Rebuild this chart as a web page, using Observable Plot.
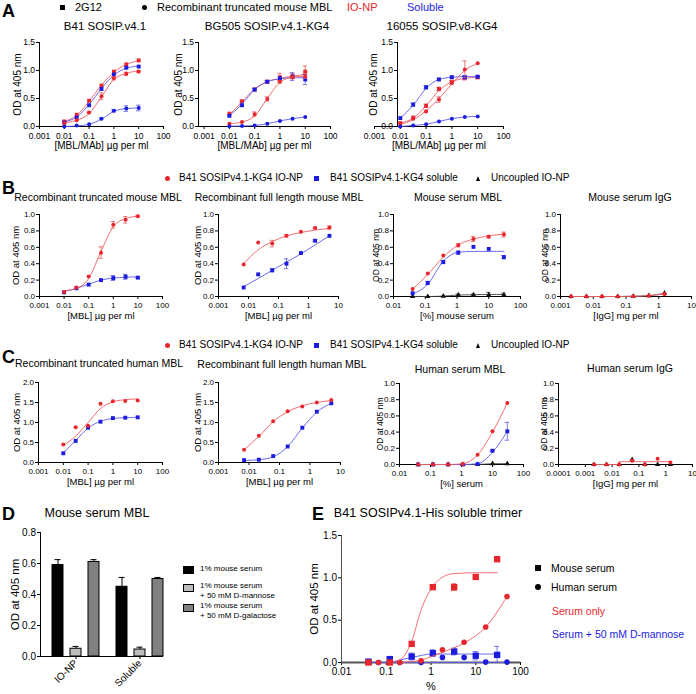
<!DOCTYPE html>
<html><head><meta charset="utf-8">
<script src="https://cdn.jsdelivr.net/npm/d3@7"></script>
<script src="https://cdn.jsdelivr.net/npm/@observablehq/plot@0.6"></script>
<style>
body{margin:0;background:#fff;}
#fig{position:relative;width:696px;height:694px;font-family:"Liberation Sans",Arial,Helvetica,sans-serif;color:#000;overflow:hidden;background:#fff}
#fig svg{position:absolute;overflow:visible}
</style></head><body><div id="fig"></div><script>
// ================= DATA =================
// Panel A  (x: [MBL/MAb] ug/ml)
const doseA = [0.01, 0.0316, 0.1, 0.316, 1, 3.16, 10];
const A1_g12_np  = [0.09, 0.21, 0.46, 0.73, 0.98, 1.11, 1.18];
const A1_g12_sol = [0.07, 0.16, 0.38, 0.67, 0.93, 1.05, 1.07];
const A1_mbl_np  = [0.06, 0.11, 0.25, 0.54, 0.86, 0.94, 0.98];
const A1_mbl_np_err  = [0, 0, 0.01, 0.06, 0.03, 0.03, 0.02];
const A1_mbl_sol = [0.0, 0.02, 0.04, 0.14, 0.28, 0.32, 0.33];
const A1_mbl_sol_err = [0, 0, 0, 0.01, 0.02, 0.05, 0.05];
const A1_g12_np_fit  = [0.09, 0.20, 0.45, 0.74, 0.97, 1.11, 1.17];
const A1_g12_sol_fit = [0.08, 0.17, 0.39, 0.68, 0.92, 1.04, 1.08];
const A1_mbl_np_fit  = [0.07, 0.11, 0.23, 0.53, 0.84, 0.95, 0.99];
const A1_mbl_sol_fit = [0.0, 0.01, 0.04, 0.13, 0.27, 0.32, 0.33];

const A2_g12_np  = [0.23, 0.45, 0.66, 0.80, 0.88, 0.90, 0.98];
const A2_g12_np_err = [0, 0.02, 0.02, 0.02, 0.07, 0.05, 0.10];
const A2_g12_sol = [0.19, 0.38, 0.66, 0.80, 0.86, 0.89, 0.84];
const A2_g12_sol_err = [0, 0.02, 0.02, 0.02, 0.03, 0.07, 0.09];
const A2_mbl_np  = [0.05, 0.08, 0.22, 0.49, 0.80, 0.88, 0.90];
const A2_mbl_np_err = [0, 0, 0.04, 0.04, 0.02, 0.02, 0.04];
const A2_mbl_sol = [0.005, 0.01, 0.02, 0.05, 0.10, 0.14, 0.17];
const A2_g12_np_fit  = [0.21, 0.44, 0.67, 0.80, 0.86, 0.90, 0.93];
const A2_g12_sol_fit = [0.19, 0.40, 0.66, 0.80, 0.85, 0.87, 0.87];
const A2_mbl_np_fit  = [0.05, 0.08, 0.19, 0.50, 0.79, 0.88, 0.90];

const A3_g12_np  = [0.06, 0.16, 0.37, 0.67, 0.80, 0.87, 0.88];
const A3_g12_np_err = [0, 0, 0.03, 0.03, 0.02, 0.04, 0.03];
const A3_g12_sol = [0.15, 0.39, 0.70, 0.84, 0.88, 0.88, 0.89];
const A3_g12_sol_err = [0, 0.03, 0.03, 0.02, 0.02, 0.03, 0.02];
const A3_mbl_np  = [0.05, 0.14, 0.27, 0.48, 0.78, 1.02, 1.13];
const A3_mbl_np_err = [0, 0, 0.02, 0.05, 0.03, 0.15, 0];
const A3_mbl_sol = [0.0, 0.02, 0.04, 0.09, 0.14, 0.17, 0.18];
const A3_g12_np_fit  = [0.06, 0.15, 0.37, 0.64, 0.80, 0.86, 0.88];
const A3_g12_sol_fit = [0.15, 0.38, 0.68, 0.84, 0.88, 0.89, 0.89];
const A3_mbl_np_fit  = [0.04, 0.12, 0.28, 0.50, 0.76, 1.00, 1.13];

// Panel B (mouse)
const doseTrunc = [0.01, 0.0316, 0.1, 0.316, 1, 3.16, 10];
const doseFull  = [0.0069, 0.021, 0.062, 0.185, 0.56, 1.67, 5];
const doseSerum = [0.04, 0.12, 0.37, 1.1, 3.3, 10, 30];
const doseIgG   = [0.0021, 0.0062, 0.0185, 0.056, 0.167, 0.5, 1.5];

const B1_np  = [0.055, 0.11, 0.245, 0.535, 0.875, 0.935, 0.98];
const B1_np_err = [0, 0, 0, 0.07, 0.04, 0.04, 0.01];
const B1_np_fit = [0.07, 0.10, 0.22, 0.55, 0.85, 0.95, 0.98];
const B1_sol = [0.05, 0.10, 0.145, 0.20, 0.225, 0.24, 0.23];
const B1_sol_err = [0, 0, 0, 0, 0.03, 0.03, 0.01];
const B1_sol_fit = [0.06, 0.10, 0.15, 0.20, 0.225, 0.235, 0.24];

const B2_np  = [0.39, 0.66, 0.645, 0.74, 0.79, 0.835, 0.84];
const B2_np_err = [0, 0, 0.04, 0.015, 0, 0.01, 0.02];
const B2_np_fit = [0.40, 0.57, 0.67, 0.74, 0.78, 0.81, 0.83];
const B2_sol = [0.11, 0.27, 0.32, 0.40, 0.53, 0.68, 0.74];
const B2_sol_err = [0, 0, 0.02, 0.06, 0, 0.01, 0];
const B2_sol_fit = [0.12, 0.22, 0.32, 0.42, 0.52, 0.63, 0.74];

const B3_np  = [0.09, 0.28, 0.50, 0.625, 0.70, 0.73, 0.755];
const B3_np_err = [0, 0, 0, 0.02, 0.03, 0.015, 0.03];
const B3_np_fit = [0.09, 0.27, 0.48, 0.63, 0.70, 0.74, 0.76];
const B3_sol = [0.04, 0.165, 0.42, 0.535, 0.605, 0.58, 0.48];
const B3_sol_err = [0, 0.02, 0.02, 0.02, 0, 0, 0.02];
const B3_sol_fit = [0.03, 0.15, 0.43, 0.54, 0.55, 0.55, 0.55];
const B3_unc = [0, 0, 0.005, 0.02, 0.02, 0.02, 0.02];
const B3_unc_err = [0, 0, 0, 0.01, 0.01, 0.03, 0.02];
const B3_unc_fit = [0, 0, 0.005, 0.018, 0.022, 0.025, 0.025];

const B4_np  = [0, 0, 0, 0, 0.002, 0.01, 0.03];
const B4_np_err = [0, 0, 0, 0, 0, 0, 0.01];
const B4_unc = [0, 0, 0, 0, 0.003, 0.01, 0.04];

// Panel C (human)
const C1_np  = [0.45, 0.88, 0.92, 1.47, 1.53, 1.54, 1.55];
const C1_np_fit = [0.42, 0.66, 1.00, 1.35, 1.52, 1.57, 1.59];
const C1_sol = [0.23, 0.54, 0.87, 1.02, 1.11, 1.12, 1.13];
const C1_sol_fit = [0.24, 0.55, 0.86, 1.03, 1.10, 1.12, 1.13];

const C2_np  = [0.32, 0.67, 1.03, 1.28, 1.40, 1.50, 1.56];
const C2_np_fit = [0.32, 0.65, 1.02, 1.27, 1.42, 1.50, 1.55];
const C2_sol = [0.06, 0.07, 0.16, 0.40, 0.87, 1.27, 1.48];
const C2_sol_fit = [0.05, 0.07, 0.14, 0.40, 0.86, 1.26, 1.48];

const C3_np  = [0, 0, 0, 0.005, 0.12, 0.41, 0.76];
const C3_np_fit = [0, 0, 0, 0.01, 0.12, 0.40, 0.76];
const C3_sol = [0, 0, 0, 0, 0.005, 0.17, 0.41];
const C3_sol_err = [0, 0, 0, 0, 0, 0.01, 0.11];
const C3_sol_fit = [0, 0, 0, 0, 0.01, 0.15, 0.41];
const C3_unc = [0, 0, 0, 0, 0, 0.01, 0.01];

const C4_np  = [0, 0, 0, 0.045, 0, 0.07, 0.025];
const C4_np_fit = [0, 0, 0, 0.035, 0.035, 0.035, 0.035];
const C4_unc = [0, 0, 0, 0.06, 0, 0, 0];

// Panel D (bars)
const dGroups = ["IO-NP", "Soluble"];
const dConds = ["1% mouse serum", "1% mouse serum\n+ 50 mM D-mannose", "1% mouse serum\n+ 50 mM D-galactose"];
const dIONP = [0.59, 0.05, 0.61];
const dIONP_err = [0.035, 0.015, 0.015];
const dSol = [0.45, 0.045, 0.50];
const dSol_err = [0.06, 0.015, 0.01];

// Panel E
const doseEm = [0.04, 0.12, 0.37, 1.1, 3.3, 10, 30];
const doseEh = [0.067, 0.2, 0.6, 1.8, 5.5, 16.7, 50];
const E_mouse_only = [0, 0, 0.22, 0.89, 0.89, 1.01, 1.22];
const E_mouse_only_err = [0, 0, 0, 0.02, 0.04, 0, 0];
const E_mouse_man = [0.01, 0.04, 0.07, 0.11, 0.13, 0.08, 0.09];
const E_mouse_man_err = [0.02, 0.02, 0.04, 0.04, 0.04, 0.05, 0.10];
const E_human_only = [0, 0, 0.02, 0.15, 0.24, 0.42, 0.78];
const E_human_man = [0, 0, 0, 0.06, 0.06, 0.005, 0.005];
const fitEm_x = [0.12, 0.2, 0.37, 0.6, 1.1, 2, 3.3, 10, 30];
const fitEm_y = [0, 0.03, 0.25, 0.62, 0.90, 1.02, 1.05, 1.06, 1.06];
const fitEh_x = [0.2, 0.6, 1.8, 5.5, 16.7, 50];
const fitEh_y = [0, 0.03, 0.12, 0.23, 0.42, 0.78];
const fitEmMan_x = [0.12, 0.37, 1.1, 3.3, 10, 30];
const fitEmMan_y = [0, 0.06, 0.10, 0.10, 0.10, 0.10];
const fitEhMan_x = [0.04, 50];
const fitEhMan_y = [0, 0];

// ================= STYLE =================
const FONT = "'Liberation Sans', Arial, Helvetica, sans-serif";
const COL  = {np: "#e8262d", sol: "#1c1cde", unc: "#111111"};
const LCOL = {np: "#ef5d62", sol: "#5b5bea", unc: "#444444"};
const fig = document.getElementById("fig");
const logFmt = d => String(d);

function S(kind, shape, x, y, err, fit, fitX) { return {kind, shape, x, y, err, fit, fitX}; }

function txt(str, x, y, o = {}) {
  const d = document.createElement("div");
  d.textContent = str;
  const tx = o.anchor === "start" ? "0" : o.anchor === "end" ? "-100%" : "-50%";
  d.style.cssText = `position:absolute;left:${x}px;top:${y}px;font-size:${o.size||11}px;color:${o.color||"#000"};` +
    `font-weight:${o.weight||"normal"};white-space:pre;line-height:${o.lh||1};transform:translate(${tx},-50%);`;
  fig.appendChild(d);
}
function marker(shape, x, y, s, color) {
  const d = document.createElement("div");
  let css = `position:absolute;left:${x - s/2}px;top:${y - s/2}px;width:${s}px;height:${s}px;background:${color};`;
  if (shape === "circle") css += "border-radius:50%;";
  if (shape === "triangle") css = `position:absolute;left:${x - s/2}px;top:${y - s/2}px;width:0;height:0;border-left:${s/2}px solid transparent;border-right:${s/2}px solid transparent;border-bottom:${s}px solid ${color};`;
  d.style.cssText = css;
  fig.appendChild(d);
}

function curvePanel(o) {
  const mL = 48, mR = 14, mT = 6, mB = 34;
  const W = o.x1 - o.x0, H = o.yb - o.yt;
  const dec = Math.log10(o.xdom[1] / o.xdom[0]);
  const capK = Math.pow(10, (o.cap || 2.2) * dec / W);
  const fs = o.fs || 8.5;
  const yAt = o.yAxisAt || o.xdom[0];
  const yDx = Math.log10(yAt / o.xdom[0]) / dec * W;
  const marks = [
    Plot.axisX({ticks: o.xticks, tickFormat: logFmt, tickSize: 3, tickPadding: o.xpad || 2.5, fontSize: fs, label: null}),
    Plot.axisY({ticks: o.yticks, tickFormat: d => d.toFixed(1), tickSize: 3, tickPadding: 1.5, fontSize: fs, label: null, dx: yDx}),
    Plot.ruleX([yAt], {stroke: o.axisCol || "#000", strokeWidth: 1}),
    Plot.ruleY([o.ydom[0]], {stroke: o.xAxisCol || "#000", strokeWidth: o.xAxisW || 1}),
  ];
  for (const s of o.series) {
    const pts = s.x.map((x, i) => ({x, y: s.y[i], e: s.err ? s.err[i] : 0}));
    const fx = s.fitX || s.x, fy = s.fit || s.y;
    if (!s.noLine) {
      const fitPts = fx.map((x, i) => ({x, y: fy[i]}));
      marks.push(Plot.line(fitPts, {x: "x", y: "y", stroke: LCOL[s.kind], strokeWidth: s.lw || 0.9, curve: s.curve || "monotone-x"}));
    }
    const eb = pts.filter(d => d.e > 0);
    const ec = {stroke: LCOL[s.kind], strokeWidth: 0.8};
    marks.push(Plot.ruleX(eb, {x: "x", y1: d => Math.max(0, d.y - d.e), y2: d => d.y + d.e, ...ec}));
    marks.push(Plot.ruleY(eb, {y: d => d.y + d.e, x1: d => d.x / capK, x2: d => d.x * capK, ...ec}));
    marks.push(Plot.ruleY(eb.filter(d => d.y - d.e > 0), {y: d => d.y - d.e, x1: d => d.x / capK, x2: d => d.x * capK, ...ec}));
    const r = s.r || o.r || (s.shape === "square" ? 2.2 : 2.0);
    marks.push(Plot.dot(pts, {x: "x", y: "y", symbol: s.shape, r, fill: COL[s.kind], stroke: "none"}));
  }
  if (o.xlabel) marks.push(Plot.text([o.xlabel], {text: d => d, frameAnchor: "bottom", textAnchor: "middle", dy: o.xlDy || 22, fontSize: o.xlfs || 10}));
  marks.push(Plot.text([o.ylabel || "OD at 405 nm"], {text: d => d, frameAnchor: "left", textAnchor: "middle", lineAnchor: "middle",
    dx: yDx + (o.ylDx || -22), rotate: -90, fontSize: o.ylfs || 10}));
  const svg = Plot.plot({
    width: W + mL + mR, height: H + mT + mB,
    marginLeft: mL, marginRight: mR, marginTop: mT, marginBottom: mB,
    x: {type: "log", domain: o.xdom},
    y: {domain: o.ydom},
    style: {fontFamily: FONT, color: "#000", background: "transparent", overflow: "visible"},
    marks
  });
  svg.style.left = (o.x0 - mL) + "px";
  svg.style.top = (o.yt - mT) + "px";
  fig.appendChild(svg);
}

// ================= PANEL A =================
txt("A", 2, 11, {size: 18, weight: "bold", anchor: "start"});
marker("square", 62, 7, 5, "#000"); txt("2G12", 75, 7, {anchor: "start", size: 11});
marker("circle", 144, 7, 5, "#000"); txt("Recombinant truncated mouse MBL", 157, 7, {anchor: "start", size: 11});
txt("IO-NP", 347, 7, {anchor: "start", size: 11, color: COL.np});
txt("Soluble", 407, 7, {anchor: "start", size: 11, color: COL.sol});
txt("B41 SOSIP.v4.1", 105, 27, {size: 11.5});
txt("BG505 SOSIP.v4.1-KG4", 267, 27, {size: 11.5});
txt("16055 SOSIP.v8-KG4", 442, 27, {size: 11.5});

const aCommon = {yt: 42, yb: 126, xticks: [0.001, 0.01, 0.1, 1, 10, 100],
  ydom: [0, 1.5], yticks: [0, 0.5, 1.0, 1.5], xlabel: "[MBL/MAb] µg per ml", xlDy: 22, xpad: 3};
curvePanel({...aCommon, x0: 39, x1: 163, xdom: [0.001, 100], ylDx: -22, series: [
  S("np", "square", doseA, A1_g12_np, null, A1_g12_np_fit),
  S("sol", "square", doseA, A1_g12_sol, null, A1_g12_sol_fit),
  S("np", "circle", doseA, A1_mbl_np, A1_mbl_np_err, A1_mbl_np_fit),
  S("sol", "circle", doseA, A1_mbl_sol, A1_mbl_sol_err, A1_mbl_sol_fit)]});
curvePanel({...aCommon, x0: 198, x1: 330, xdom: [0.0006, 100], ylDx: -20, series: [
  S("np", "square", doseA, A2_g12_np, A2_g12_np_err, A2_g12_np_fit),
  S("sol", "square", doseA, A2_g12_sol, A2_g12_sol_err, A2_g12_sol_fit),
  S("np", "circle", doseA, A2_mbl_np, A2_mbl_np_err, A2_mbl_np_fit),
  S("sol", "circle", doseA, A2_mbl_sol)]});
curvePanel({...aCommon, x0: 374, x1: 503, xdom: [0.001, 100], yAxisAt: 0.0078, ylDx: -24, series: [
  S("np", "square", doseA, A3_g12_np, A3_g12_np_err, A3_g12_np_fit),
  S("sol", "square", doseA, A3_g12_sol, A3_g12_sol_err, A3_g12_sol_fit),
  S("np", "circle", doseA, A3_mbl_np, A3_mbl_np_err, A3_mbl_np_fit),
  S("sol", "circle", doseA, A3_mbl_sol)]});

// ================= PANEL B =================
function legendBC(y) {
  marker("circle", 167, y, 5, COL.np); txt("B41 SOSIPv4.1-KG4 IO-NP", 179, y, {anchor: "start", size: 10});
  marker("square", 316, y, 5, COL.sol); txt("B41 SOSIPv4.1-KG4 soluble", 330, y, {anchor: "start", size: 10});
  marker("triangle", 478, y, 5, "#000"); txt("Uncoupled IO-NP", 491, y, {anchor: "start", size: 10});
}
txt("B", 2, 188, {size: 18, weight: "bold", anchor: "start"});
legendBC(178);
txt("Recombinant truncated mouse MBL", 98, 197, {size: 10.5});
txt("Recombinant full length mouse MBL", 279, 197, {size: 10.5});
txt("Mouse serum MBL", 458, 197, {size: 10.5});
txt("Mouse serum IgG", 630, 197, {size: 10.5});
const bCommon = {yt: 214, yb: 296, ydom: [0, 1], yticks: [0, 0.2, 0.4, 0.6, 0.8, 1.0], fs: 8, xlDy: 22, xlfs: 9.5, ylfs: 9.5};
curvePanel({...bCommon, x0: 39, x1: 162, xdom: [0.001, 100], xticks: [0.001, 0.01, 0.1, 1, 10, 100],
  xlabel: "[MBL] µg per ml", ylDx: -24, series: [
  S("sol", "square", doseTrunc, B1_sol, B1_sol_err, B1_sol_fit),
  S("np", "circle", doseTrunc, B1_np, B1_np_err, B1_np_fit)]});
curvePanel({...bCommon, x0: 218, x1: 338, xdom: [0.001, 10], xticks: [0.001, 0.01, 0.1, 1, 10],
  xlabel: "[MBL] µg per ml", ylDx: -21, series: [
  S("sol", "square", doseFull, B2_sol, B2_sol_err, B2_sol_fit),
  S("np", "circle", doseFull, B2_np, B2_np_err, B2_np_fit)]});
curvePanel({...bCommon, x0: 393, x1: 520, xdom: [0.01, 100], xticks: [0.01, 0.1, 1, 10, 100],
  xlabel: "[%] mouse serum", ylDx: -17, ylfs: 8.5, series: [
  S("unc", "triangle", doseSerum, B3_unc, B3_unc_err, B3_unc_fit),
  S("sol", "square", doseSerum, B3_sol, B3_sol_err, B3_sol_fit),
  S("np", "circle", doseSerum, B3_np, B3_np_err, B3_np_fit)]});
curvePanel({...bCommon, x0: 560, x1: 691, xdom: [0.001, 10], xticks: [0.001, 0.01, 0.1, 1, 10],
  xlabel: "[IgG] mg per ml", ylDx: -15, ylfs: 8.5, series: [
  S("unc", "triangle", doseIgG, B4_unc),
  S("np", "circle", doseIgG, B4_np, B4_np_err)]});

// ================= PANEL C =================
txt("C", 2, 357, {size: 18, weight: "bold", anchor: "start"});
legendBC(345);
txt("Recombinant truncated human MBL", 99, 363, {size: 10.5});
txt("Recombinant full length human MBL", 282, 364, {size: 10.5});
txt("Human serum MBL", 460, 369, {size: 10.5});
txt("Human serum IgG", 630, 368, {size: 10.5});
const cCommon = {fs: 8, xlDy: 22, xlfs: 9.5, ylfs: 9.5};
curvePanel({...cCommon, x0: 38, x1: 162, yt: 382, yb: 462, ydom: [0, 2], yticks: [0, 0.5, 1, 1.5, 2],
  xdom: [0.001, 100], xticks: [0.001, 0.01, 0.1, 1, 10, 100], xlabel: "[MBL] µg per ml", ylDx: -22, series: [
  S("sol", "square", doseTrunc, C1_sol, null, C1_sol_fit),
  S("np", "circle", doseTrunc, C1_np, null, C1_np_fit)]});
curvePanel({...cCommon, x0: 218, x1: 340, yt: 382, yb: 462, ydom: [0, 2], yticks: [0, 0.5, 1, 1.5, 2],
  xdom: [0.001, 10], xticks: [0.001, 0.01, 0.1, 1, 10], xlabel: "[MBL] µg per ml", ylDx: -21, series: [
  S("sol", "square", doseFull, C2_sol, null, C2_sol_fit),
  S("np", "circle", doseFull, C2_np, null, C2_np_fit)]});
curvePanel({...cCommon, x0: 399, x1: 523, yt: 383, yb: 464, ydom: [0, 1], yticks: [0, 0.2, 0.4, 0.6, 0.8, 1.0],
  xdom: [0.01, 100], xticks: [0.01, 0.1, 1, 10, 100], xlabel: "[%] serum", ylDx: -19, ylfs: 8.5, series: [
  S("unc", "triangle", doseSerum, C3_unc),
  S("sol", "square", doseSerum, C3_sol, C3_sol_err, C3_sol_fit),
  S("np", "circle", doseSerum, C3_np, null, C3_np_fit)]});
curvePanel({...cCommon, x0: 558, x1: 692, yt: 383, yb: 464, ydom: [0, 1], yticks: [0, 0.2, 0.4, 0.6, 0.8, 1.0],
  xdom: [0.0001, 10], xticks: [0.0001, 0.001, 0.01, 0.1, 1, 10], xlabel: "[IgG] mg per ml", ylDx: -14, ylfs: 8.5, series: [
  S("unc", "triangle", doseIgG, C4_unc, null, null),
  S("np", "circle", doseIgG, C4_np, null, C4_np_fit)].map(s => s.kind === "np" ? {...s, curve: "step-before"} : {...s, noLine: true})});

// ================= PANEL D =================
txt("D", 2, 514, {size: 18, weight: "bold", anchor: "start"});
txt("Mouse serum MBL", 97, 513, {size: 12.5});
(function () {
  const fills = ["#000000", "#bdbdbd", "#808080"];
  const slots = [];
  const data = [];
  dGroups.forEach((g, gi) => {
    const vals = gi === 0 ? dIONP : dSol, errs = gi === 0 ? dIONP_err : dSol_err;
    dConds.forEach((c, ci) => { slots.push(g + "|" + ci); data.push({slot: g + "|" + ci, gi, ci, v: vals[ci], e: errs[ci]}); });
  });
  const x0 = 40, x1 = 163, yt = 532, yb = 656;
  const mL = 48, mR = 8, mT = 6, mB = 46;
  const GAP = 10; // extra pixel gap shifting the second group
  const groupMarks = (gi) => {
    const dd = data.filter(d => d.gi === gi), dx = gi * GAP;
    return [
      Plot.ruleX(dd, {x: "slot", y1: "v", y2: d => d.v + d.e, stroke: "#000", strokeWidth: 1, dx}),
      Plot.tickY(dd, {x: "slot", y: d => d.v + d.e, stroke: "#000", strokeWidth: 1, insetLeft: 2.5, insetRight: 2.5, dx}),
      Plot.barY(dd, {x: "slot", y: "v", fill: d => fills[d.ci], stroke: "#000", strokeWidth: 1, dx})
    ];
  };
  const svg = Plot.plot({
    width: x1 - x0 + mL + mR, height: yb - yt + mT + mB,
    marginLeft: mL, marginRight: mR, marginTop: mT, marginBottom: mB,
    x: {type: "band", domain: slots, range: [mL + 11, mL + 114], paddingInner: 0.4, paddingOuter: 0},
    y: {domain: [0, 0.8]},
    style: {fontFamily: FONT, color: "#000", background: "transparent", overflow: "visible"},
    marks: [
      Plot.axisY({ticks: [0, 0.2, 0.4, 0.6, 0.8], tickFormat: d => d.toFixed(1), tickSize: 3, tickPadding: 1.5, fontSize: 10, label: null}),
      Plot.axisX({ticks: ["IO-NP|1"], tickFormat: d => d.split("|")[0], tickRotate: -45, tickSize: 3, tickPadding: 2, fontSize: 10, label: null}),
      Plot.axisX({ticks: ["Soluble|1"], tickFormat: d => d.split("|")[0], tickRotate: -45, tickSize: 3, tickPadding: 2, fontSize: 10, label: null, dx: GAP}),
      ...groupMarks(0), ...groupMarks(1),
      Plot.frame({anchor: "left", stroke: "#000"}),
      Plot.ruleY([0], {stroke: "#000"}),
      Plot.text(["OD at 405 nm"], {text: d => d, frameAnchor: "left", textAnchor: "middle", dx: -25, rotate: -90, fontSize: 11.5})
    ]
  });
  svg.style.left = (x0 - mL) + "px";
  svg.style.top = (yt - mT) + "px";
  fig.appendChild(svg);
  // legend
  const rows = [569, 587, 607];
  dConds.forEach((c, ci) => {
    const d = document.createElement("div");
    d.style.cssText = `position:absolute;left:183px;top:${rows[ci] - 3.5}px;width:9px;height:6px;background:${fills[ci]};border:1px solid #000;`;
    fig.appendChild(d);
    txt(c, 200, rows[ci] + (ci ? 3.5 : 0), {anchor: "start", size: 8, lh: 1.25});
  });
})();

// ================= PANEL E =================
txt("E", 312, 514, {size: 18, weight: "bold", anchor: "start"});
txt("B41 SOSIPv4.1-His soluble trimer", 428, 513, {size: 12.5});
curvePanel({x0: 341, x1: 520, yt: 535, yb: 662, xdom: [0.01, 100], xticks: [0.01, 0.1, 1, 10, 100],
  ydom: [0, 1.5], yticks: [0, 0.5, 1, 1.5], fs: 10, xlabel: "%", xlDy: 27, xlfs: 11, ylDx: -27, ylfs: 11.5,
  axisCol: "#555", xAxisCol: "#555", xAxisW: 2.2, cap: 2.6, series: [
  S("sol", "circle", doseEh, E_human_man, null, fitEhMan_y, fitEhMan_x),
  S("sol", "square", doseEm, E_mouse_man, E_mouse_man_err, fitEmMan_y, fitEmMan_x),
  S("np", "circle", doseEh, E_human_only, null, fitEh_y, fitEh_x),
  S("np", "square", doseEm, E_mouse_only, E_mouse_only_err, fitEm_y, fitEm_x)].map(s => ({...s, r: s.shape === "square" ? 3.6 : 2.8}))});
marker("square", 538, 568, 6, "#000"); txt("Mouse serum", 551, 568, {anchor: "start", size: 10.5});
marker("circle", 538, 587, 6, "#000"); txt("Human serum", 551, 587, {anchor: "start", size: 10.5});
txt("Serum only", 552, 611, {anchor: "start", size: 10.5, color: COL.np});
txt("Serum + 50 mM D-mannose", 552, 634, {anchor: "start", size: 10.5, color: COL.sol});
</script></body></html>
